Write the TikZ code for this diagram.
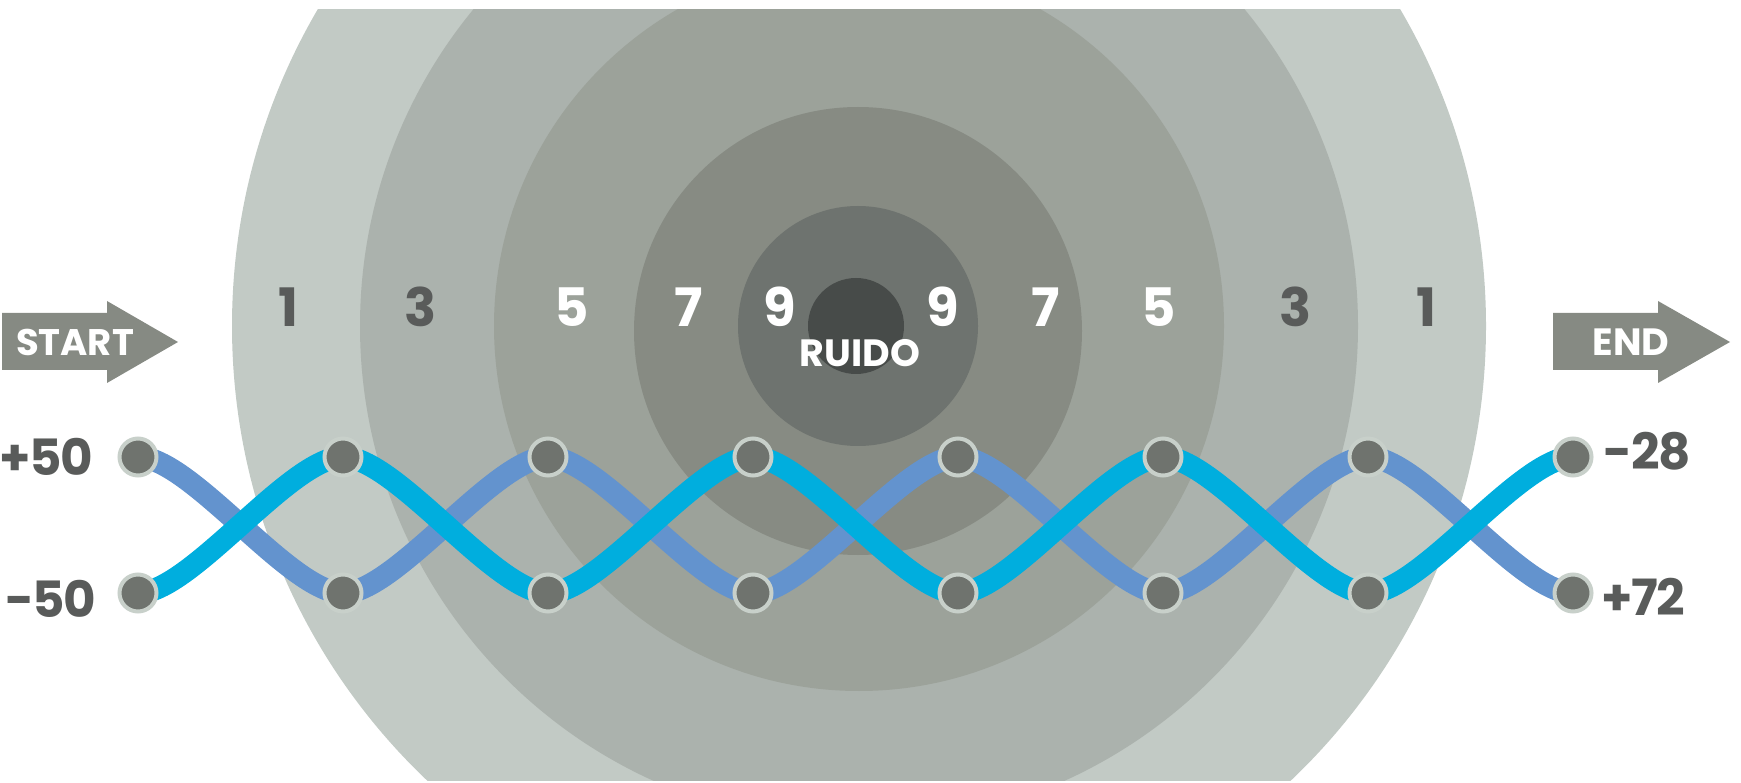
\documentclass[tikz,border=0pt]{standalone}
\usepackage{fontspec}
\setmainfont{Poppins}
\newfontfamily\labelfont[LetterSpace=-3]{Poppins}
\usepackage{tikz}
\usetikzlibrary{positioning}
\usepackage{xcolor}

\definecolor{ringA}{HTML}{C2CAC5}
\definecolor{ringB}{HTML}{ABB2AD}
\definecolor{ringC}{HTML}{9CA29A}
\definecolor{ringD}{HTML}{878B83}
\definecolor{ringE}{HTML}{6E736F}
\definecolor{ringF}{HTML}{474B49}
\definecolor{pairblue}{HTML}{6393CE}
\definecolor{paircyan}{HTML}{00AEDE}
\definecolor{pindot}{HTML}{6F736E}
\definecolor{pinring}{HTML}{C8D0CA}
\definecolor{labelgray}{HTML}{595B5A}
\definecolor{arrowgray}{HTML}{868A83}

\pgfdeclarelayer{back}
\pgfdeclarelayer{twist}
\pgfsetlayers{back,twist,main}

\begin{document}
\begin{tikzpicture}[x=1pt, y=-1pt, node distance=205pt]
\tikzstyle{pin} = [circle, draw=pinring, fill=pindot, line width=4pt, minimum size=37pt, inner sep=0pt]
\tikzstyle{count} = [font=\fontsize{53}{53}\selectfont\bfseries, inner sep=0pt]
\tikzstyle{value} = [font=\labelfont\fontsize{50}{50}\selectfont\bfseries, text=labelgray, inner sep=0pt]
\tikzstyle{tag} = [font=\fontsize{38}{38}\selectfont\bfseries, text=white, inner sep=0pt]
\tikzstyle{strand} = [line width=22pt, looseness=0.55]

\useasboundingbox (0,0) rectangle (1741,783);

% noise rings
\begin{pgfonlayer}{back}
\begin{scope}
\clip (0,10) rectangle (1741,780);
\fill[ringA] (859,326) circle (627pt);
\fill[ringB] (859,326) circle (499pt);
\fill[ringC] (859,326) circle (365pt);
\fill[ringD] (858,331) circle (224pt);
\fill[ringE] (858,326) circle (120pt);
\fill[ringF] (856,326) circle (48pt);
\end{scope}
\end{pgfonlayer}

\node[count, text=labelgray] (oneL) at (288,307) {1};
\node[count, text=labelgray] (threeL) at (421,307) {3};
\node[count, text=white] (fiveL) at (572,307) {5};
\node[count, text=white] (sevenL) at (689,307) {7};
\node[count, text=white] (nineL) at (780,307) {9};
\node[count, text=white] (nineR) at (943,307) {9};
\node[count, text=white] (sevenR) at (1046,307) {7};
\node[count, text=white] (fiveR) at (1159,307) {5};
\node[count, text=labelgray] (threeR) at (1296,307) {3};
\node[count, text=labelgray] (oneR) at (1426,307) {1};

\node[tag] (ruido) at (860,353) {RUIDO};

% start / end arrows
\fill[arrowgray] (2,313) -- (107,313) -- (107,301) -- (178,342) -- (107,383) -- (107,370) -- (2,370) -- cycle;
\node[tag, font=\fontsize{37}{37}\selectfont\bfseries] (start) at (75,342) {START};
\fill[arrowgray] (1553,313) -- (1658,313) -- (1658,301) -- (1730,342) -- (1658,383) -- (1658,370) -- (1553,370) -- cycle;
\node[tag] (finish) at (1631,342) {END};

% the pair
\node[pin] (T0) at (138,457) {};
\node[pin, right of=T0] (T1) {};
\node[pin, right of=T1] (T2) {};
\node[pin, right of=T2] (T3) {};
\node[pin, right of=T3] (T4) {};
\node[pin, right of=T4] (T5) {};
\node[pin, right of=T5] (T6) {};
\node[pin, right of=T6] (T7) {};

\node[pin] (B0) at (138,593) {};
\node[pin, right of=B0] (B1) {};
\node[pin, right of=B1] (B2) {};
\node[pin, right of=B2] (B3) {};
\node[pin, right of=B3] (B4) {};
\node[pin, right of=B4] (B5) {};
\node[pin, right of=B5] (B6) {};
\node[pin, right of=B6] (B7) {};

\node[value, left=24pt of T0] (inA) {+50};
\node[value, left=21pt of B0, yshift=-6pt] (inB) {-50};
\node[value, right=10pt of T7, yshift=6pt] (outA) {-28};
\node[value, right=8pt of B7, yshift=-4pt] (outB) {+72};

\begin{pgfonlayer}{twist}
\draw[strand, pairblue] (T0.center) to[out=0,in=180] (B1.center) to[out=0,in=180] (T2.center)
  to[out=0,in=180] (B3.center) to[out=0,in=180] (T4.center) to[out=0,in=180] (B5.center)
  to[out=0,in=180] (T6.center) to[out=0,in=180] (B7.center);
\draw[strand, paircyan] (B0.center) to[out=0,in=180] (T1.center) to[out=0,in=180] (B2.center)
  to[out=0,in=180] (T3.center) to[out=0,in=180] (B4.center) to[out=0,in=180] (T5.center)
  to[out=0,in=180] (B6.center) to[out=0,in=180] (T7.center);
\end{pgfonlayer}

\end{tikzpicture}
\end{document}
